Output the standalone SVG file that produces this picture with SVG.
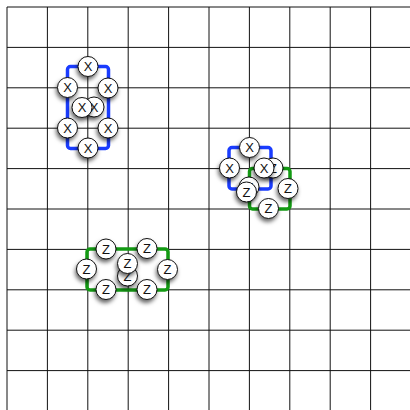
<svg xmlns="http://www.w3.org/2000/svg" width="410" height="410" viewBox="0 0 410 410">
<defs>
<filter id="sh" x="-60%" y="-60%" width="220%" height="220%">
<feDropShadow dx="-1" dy="3" stdDeviation="2.2" flood-color="#000" flood-opacity="0.6"/>
</filter>
<style>
.g{stroke:#111;stroke-width:1;}
.bl{fill:none;stroke:#1a3cff;stroke-width:3.5;}
.gr{fill:none;stroke:#139a13;stroke-width:3.5;}
.n circle{fill:#fff;stroke:#111;stroke-width:1;filter:url(#sh);}
.n text{font-family:"Liberation Sans",Arial,sans-serif;font-size:13px;text-anchor:middle;fill:#111;}
</style>
</defs>
<rect width="410" height="410" fill="#fff"/>
<g id="grid" class="g">
<line x1="7" y1="7" x2="410" y2="7"/>
<line x1="7" y1="47.4" x2="410" y2="47.4"/>
<line x1="7" y1="87.8" x2="410" y2="87.8"/>
<line x1="7" y1="128.2" x2="410" y2="128.2"/>
<line x1="7" y1="168.6" x2="410" y2="168.6"/>
<line x1="7" y1="209" x2="410" y2="209"/>
<line x1="7" y1="249.4" x2="410" y2="249.4"/>
<line x1="7" y1="289.8" x2="410" y2="289.8"/>
<line x1="7" y1="330.2" x2="410" y2="330.2"/>
<line x1="7" y1="370.6" x2="410" y2="370.6"/>
<line x1="7" y1="7" x2="7" y2="410"/>
<line x1="47.4" y1="7" x2="47.4" y2="410"/>
<line x1="87.8" y1="7" x2="87.8" y2="410"/>
<line x1="128.2" y1="7" x2="128.2" y2="410"/>
<line x1="168.6" y1="7" x2="168.6" y2="410"/>
<line x1="209" y1="7" x2="209" y2="410"/>
<line x1="249.4" y1="7" x2="249.4" y2="410"/>
<line x1="289.8" y1="7" x2="289.8" y2="410"/>
<line x1="330.2" y1="7" x2="330.2" y2="410"/>
<line x1="370.6" y1="7" x2="370.6" y2="410"/>
</g>
<g id="connectors">
<rect class="bl" x="67.5" y="66.5" width="41" height="82" rx="3"/>
<rect class="bl" x="229" y="147.5" width="42" height="41.5" rx="3"/>
<rect class="gr" x="249.5" y="168.5" width="40.5" height="40.5" rx="3"/>
<rect class="gr" x="87" y="249" width="81" height="41" rx="3"/>
</g>
<g id="a1" class="n"><circle cx="88" cy="66.5" r="10"/><text x="88" y="71">X</text></g>
<g id="a2" class="n"><circle cx="67.5" cy="87.5" r="10"/><text x="67.5" y="92">X</text></g>
<g id="a3" class="n"><circle cx="108" cy="88" r="10"/><text x="108" y="92.5">X</text></g>
<g id="a4" class="n"><circle cx="67.5" cy="128" r="10"/><text x="67.5" y="132.5">X</text></g>
<g id="a5" class="n"><circle cx="108" cy="128" r="10"/><text x="108" y="132.5">X</text></g>
<g id="a6" class="n"><circle cx="88" cy="148" r="10"/><text x="88" y="152.5">X</text></g>
<g id="a7" class="n"><circle cx="94" cy="107" r="10"/><text x="94" y="111.5">X</text></g>
<g id="a8" class="n"><circle cx="82" cy="107.5" r="10"/><text x="82" y="112">X</text></g>
<g id="b4" class="n"><circle cx="249" cy="187" r="10"/><text x="249" y="191.5">X</text></g>
<g id="c1" class="n"><circle cx="273" cy="168" r="10"/><text x="273" y="172.5">Z</text></g>
<g id="b1" class="n"><circle cx="249.5" cy="147.5" r="10"/><text x="249.5" y="152">X</text></g>
<g id="b2" class="n"><circle cx="229.5" cy="168" r="10"/><text x="229.5" y="172.5">X</text></g>
<g id="b3" class="n"><circle cx="264" cy="168" r="10"/><text x="264" y="172.5">X</text></g>
<g id="c2" class="n"><circle cx="246.5" cy="192" r="10"/><text x="246.5" y="196.5">Z</text></g>
<g id="c3" class="n"><circle cx="288" cy="188.5" r="10"/><text x="288" y="193">Z</text></g>
<g id="c4" class="n"><circle cx="268.5" cy="208.5" r="10"/><text x="268.5" y="213">Z</text></g>
<g id="d1" class="n"><circle cx="106" cy="249" r="10"/><text x="106" y="253.5">Z</text></g>
<g id="d2" class="n"><circle cx="147" cy="248.5" r="10"/><text x="147" y="253">Z</text></g>
<g id="d3" class="n"><circle cx="86.5" cy="269" r="10"/><text x="86.5" y="273.5">Z</text></g>
<g id="d4" class="n"><circle cx="167.5" cy="269.5" r="10"/><text x="167.5" y="274">Z</text></g>
<g id="d5" class="n"><circle cx="106" cy="289.5" r="10"/><text x="106" y="294">Z</text></g>
<g id="d6" class="n"><circle cx="147" cy="289.5" r="10"/><text x="147" y="294">Z</text></g>
<g id="d7" class="n"><circle cx="127.5" cy="276" r="10"/><text x="127.5" y="280.5">Z</text></g>
<g id="d8" class="n"><circle cx="127.5" cy="263.5" r="10"/><text x="127.5" y="268">Z</text></g>
</svg>
